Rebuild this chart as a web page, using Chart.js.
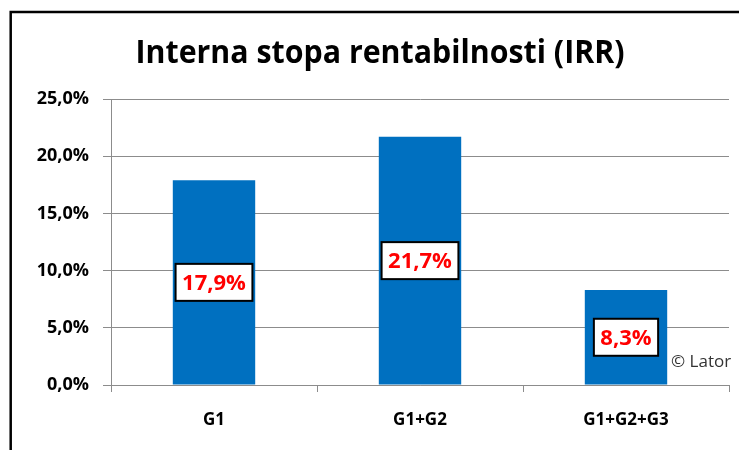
<!DOCTYPE html>
<html lang="hr">
<head>
    <meta charset="UTF-8">
    <title>Interna stopa rentabilnosti (IRR)</title>
    <style>
        html, body {
            margin: 0;
            padding: 0;
            background: #fff;
        }
        #chart {
            display: block;
        }
    </style>
</head>
<body>
    <canvas id="chart" width="739" height="450"></canvas>
    <script src="https://cdn.jsdelivr.net/npm/chart.js"></script>
    <script>
        // Chart data
        const categories = ['G1', 'G1+G2', 'G1+G2+G3'];
        const irrValues = [17.9, 21.7, 8.3];
        const yTicks = [0, 5, 10, 15, 20, 25];

        const chartTitle = 'Interna stopa rentabilnosti (IRR)';
        const copyright = '\u00A9 Lator';

        function fmtPct(v) {
            return v.toFixed(1).replace('.', ',') + '%';
        }

        // Frame, title and copyright note
        const decorPlugin = {
            id: 'decor',
            beforeDraw(chart) {
                const ctx = chart.ctx;
                ctx.save();
                ctx.fillStyle = '#fff';
                ctx.fillRect(0, 0, chart.width, chart.height);
                ctx.strokeStyle = '#000';
                ctx.lineWidth = 2.5;
                ctx.strokeRect(10.7, 12, 800, 500);
                ctx.restore();
            },
            afterDraw(chart) {
                const ctx = chart.ctx;
                ctx.save();
                ctx.fillStyle = '#000';
                ctx.font = 'bold 33px "Open Sans"';
                ctx.textAlign = 'center';
                ctx.textBaseline = 'alphabetic';
                ctx.fillText(chartTitle, 380, 63, 489);

                ctx.fillStyle = '#333';
                ctx.font = '17px "Open Sans"';
                ctx.textAlign = 'left';
                ctx.fillText(copyright, 671, 367, 63);
                ctx.restore();
            }
        };

        // Value labels in white boxes in the middle of each bar
        const boxLabelPlugin = {
            id: 'boxLabels',
            afterDatasetsDraw(chart) {
                const ctx = chart.ctx;
                const meta = chart.getDatasetMeta(0);
                ctx.save();
                ctx.font = 'bold 22px "Open Sans"';
                ctx.textAlign = 'center';
                ctx.textBaseline = 'middle';
                meta.data.forEach((bar, i) => {
                    const text = fmtPct(irrValues[i]);
                    const w = ctx.measureText(text).width + 13;
                    const h = 37;
                    const cx = bar.x;
                    const cy = (bar.y + bar.base) / 2;
                    ctx.fillStyle = '#fff';
                    ctx.fillRect(cx - w / 2, cy - h / 2, w, h);
                    ctx.strokeStyle = '#000';
                    ctx.lineWidth = 2;
                    ctx.strokeRect(cx - w / 2, cy - h / 2, w, h);
                    ctx.fillStyle = '#ff0000';
                    ctx.fillText(text, cx, cy + 1);
                });
                ctx.restore();
            }
        };

        const ctx = document.getElementById('chart').getContext('2d');
        const irrChart = new Chart(ctx, {
            type: 'bar',
            data: {
                labels: categories,
                datasets: [{
                    label: 'IRR',
                    data: irrValues,
                    backgroundColor: '#0070c0',
                    borderWidth: 0,
                    barPercentage: 0.4,
                    categoryPercentage: 1.0
                }]
            },
            options: {
                responsive: false,
                devicePixelRatio: 1,
                animation: false,
                layout: {
                    padding: { top: 99, right: 10, bottom: 0, left: 0 }
                },
                plugins: {
                    legend: { display: false },
                    title: { display: false },
                    tooltip: { enabled: false }
                },
                scales: {
                    x: {
                        afterFit(scale) { scale.height = 65; },
                        grid: {
                            offset: true,
                            drawOnChartArea: false,
                            drawTicks: true,
                            tickLength: 7,
                            color: '#8c8c8c'
                        },
                        border: { display: true, color: '#8c8c8c' },
                        ticks: {
                            color: '#000',
                            padding: 18,
                            font: { family: '"Open Sans"', size: 17, weight: 'bold' }
                        }
                    },
                    y: {
                        min: 0,
                        max: 25,
                        afterFit(scale) { scale.width = 111; },
                        afterBuildTicks(scale) {
                            scale.ticks = yTicks.map(v => ({ value: v }));
                        },
                        grid: {
                            color: '#8c8c8c',
                            tickLength: 8
                        },
                        border: { display: true, color: '#8c8c8c' },
                        ticks: {
                            color: '#000',
                            padding: 14,
                            font: { family: '"Open Sans"', size: 18, weight: 'bold' },
                            callback: v => fmtPct(v)
                        }
                    }
                }
            },
            plugins: [decorPlugin, boxLabelPlugin]
        });
    </script>
</body>
</html>
